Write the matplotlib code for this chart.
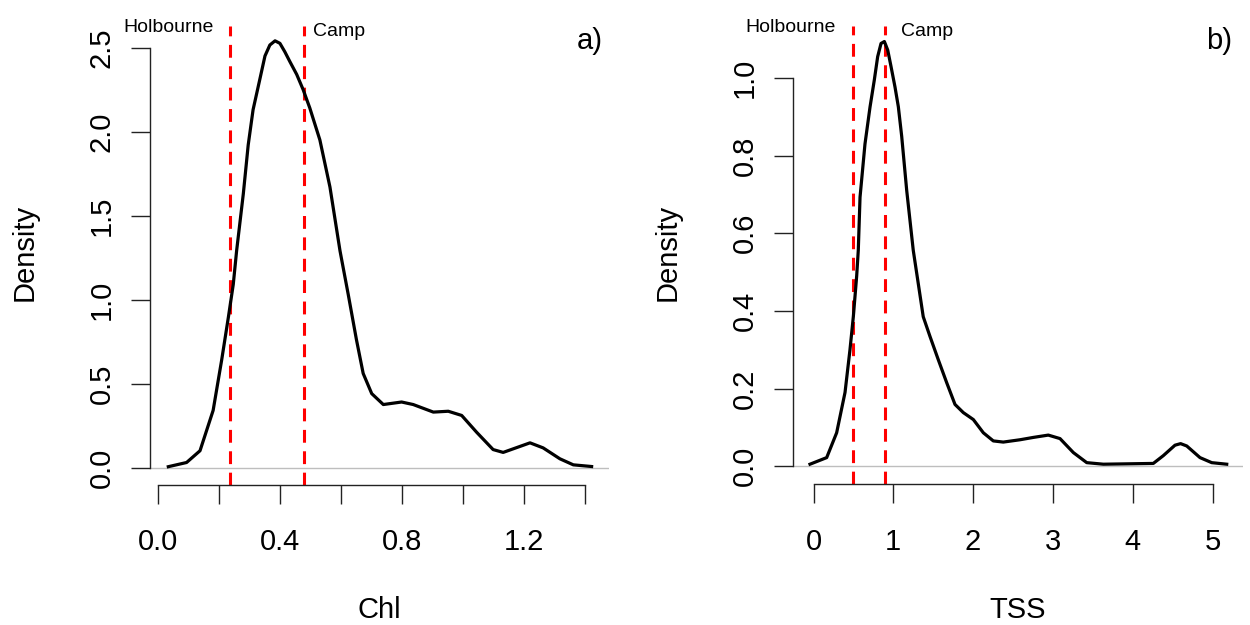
import matplotlib
matplotlib.use('Agg')
import matplotlib.pyplot as plt

plt.rcParams['font.family'] = ['Liberation Sans', 'DejaVu Sans']

# density curve (Chl)
chl_x = [0.033, 0.093, 0.137, 0.18, 0.208, 0.23, 0.246, 0.257, 0.279, 0.295, 0.311, 0.333,
         0.35, 0.366, 0.383, 0.399, 0.415, 0.432, 0.454, 0.475, 0.497, 0.53, 0.563, 0.596,
         0.623, 0.65, 0.672, 0.70, 0.738, 0.798, 0.836, 0.902, 0.951, 0.995, 1.044, 1.098,
         1.131, 1.219, 1.262, 1.317, 1.361, 1.421]
chl_y = [0.005, 0.03, 0.10, 0.34, 0.64, 0.895, 1.09, 1.29, 1.63, 1.92, 2.13, 2.31,
         2.45, 2.515, 2.54, 2.525, 2.475, 2.415, 2.34, 2.25, 2.14, 1.95, 1.67, 1.29,
         1.03, 0.76, 0.56, 0.44, 0.375, 0.39, 0.375, 0.33, 0.335, 0.31, 0.21, 0.107,
         0.09, 0.147, 0.117, 0.052, 0.016, 0.006]

# density curve (TSS)
tss_x = [-0.044, 0.165, 0.29, 0.395, 0.457, 0.499, 0.541, 0.561, 0.583, 0.645, 0.708, 0.762,
         0.804, 0.846, 0.888, 0.93, 0.971, 1.021, 1.063, 1.105, 1.168, 1.25, 1.313, 1.375,
         1.46, 1.564, 1.669, 1.773, 1.877, 2.003, 2.128, 2.253, 2.378, 2.588, 2.754, 2.942,
         3.089, 3.256, 3.424, 3.632, 4.258, 4.383, 4.53, 4.60, 4.677, 4.843, 4.99, 5.178]
tss_y = [0.005, 0.022, 0.086, 0.19, 0.30, 0.385, 0.49, 0.556, 0.693, 0.83, 0.925, 0.995,
         1.055, 1.089, 1.094, 1.072, 1.03, 0.977, 0.926, 0.85, 0.71, 0.556, 0.47, 0.385,
         0.334, 0.274, 0.215, 0.159, 0.138, 0.12, 0.086, 0.065, 0.062, 0.068, 0.074, 0.08,
         0.071, 0.035, 0.009, 0.005, 0.007, 0.027, 0.054, 0.058, 0.052, 0.022, 0.009, 0.005]

sites = ['Holbourne', 'Camp']
chl_sites = [0.234, 0.479]
tss_sites = [0.50, 0.90]

chl_xticks = [0.0, 0.2, 0.4, 0.6, 0.8, 1.0, 1.2, 1.4]
chl_xlabels = ['0.0', '', '0.4', '', '0.8', '', '1.2', '']
chl_yticks = [0.0, 0.5, 1.0, 1.5, 2.0, 2.5]
tss_xticks = [0, 1, 2, 3, 4, 5]
tss_yticks = [0.0, 0.2, 0.4, 0.6, 0.8, 1.0]

W, H = 1250, 625
fig = plt.figure(figsize=(W / 100, H / 100), dpi=100)


def box(l, r, t, b):
    return [l / W, 1 - b / H, (r - l) / W, (b - t) / H]


def style(ax, xt, xl, yt):
    for s in ['top', 'right']:
        ax.spines[s].set_visible(False)
    ax.spines['left'].set_bounds(yt[0], yt[-1])
    ax.spines['bottom'].set_bounds(xt[0], xt[-1])
    for s in ['left', 'bottom']:
        ax.spines[s].set_color('#222222')
        ax.spines[s].set_linewidth(1)
    ax.set_xticks(xt)
    ax.set_xticklabels(xl)
    ax.set_yticks(yt)
    ax.set_yticklabels(['%.1f' % v for v in yt], rotation=90, va='center')
    ax.tick_params(axis='both', direction='out', length=13.5, width=1, color='#222222',
                   labelsize=21)
    ax.tick_params(axis='x', pad=18)
    ax.tick_params(axis='y', pad=11)
    ax.patch.set_visible(False)


def panel(ax, x, y, site_x, offs):
    ax.axhline(0, color='#bebebe', lw=1, zorder=1)
    ax.plot(x, y, color='black', lw=2.3, zorder=3, solid_joinstyle='round')
    for sx in site_x:
        ax.axvline(sx, color='#ff0000', lw=2.2, dashes=(4.2, 2.8), zorder=2)
    for name, sx, (dx, dy, ha) in zip(sites, site_x, offs):
        ax.annotate(name, xy=(sx, 1), xycoords=('data', 'axes fraction'),
                    xytext=(dx, dy), textcoords='offset pixels', ha=ha, va='baseline',
                    fontsize=14, annotation_clip=False)


ax1 = fig.add_axes(box(150, 609, 25.7, 484.5))
ax1.set_xlim(-0.027, 1.478)
ax1.set_ylim(-0.101, 2.63)
panel(ax1, chl_x, chl_y, chl_sites, [(-16, -6, 'right'), (9, -10, 'left')])
style(ax1, chl_xticks, chl_xlabels, chl_yticks)

ax2 = fig.add_axes(box(793, 1243, 26, 484))
ax2.set_xlim(-0.257, 5.382)
ax2.set_ylim(-0.046, 1.134)
panel(ax2, tss_x, tss_y, tss_sites, [(-18, -6, 'right'), (16, -10, 'left')])
style(ax2, tss_xticks, [str(v) for v in tss_xticks], tss_yticks)

fig.text(25 / W, 1 - 252 / H, 'Density', rotation=90, ha='center', va='center', fontsize=21)
fig.text(668 / W, 1 - 252 / H, 'Density', rotation=90, ha='center', va='center', fontsize=21)
fig.text(379.5 / W, 1 - 618 / H, 'Chl', ha='center', va='baseline', fontsize=21)
fig.text(1018 / W, 1 - 618 / H, 'TSS', ha='center', va='baseline', fontsize=21)
fig.text(589.7 / W, 1 - 41 / H, 'a)', ha='center', va='center', fontsize=21)
fig.text(1219 / W, 1 - 41 / H, 'b)', ha='center', va='center', fontsize=21)

fig.savefig('out.png', dpi=100, facecolor='white')
